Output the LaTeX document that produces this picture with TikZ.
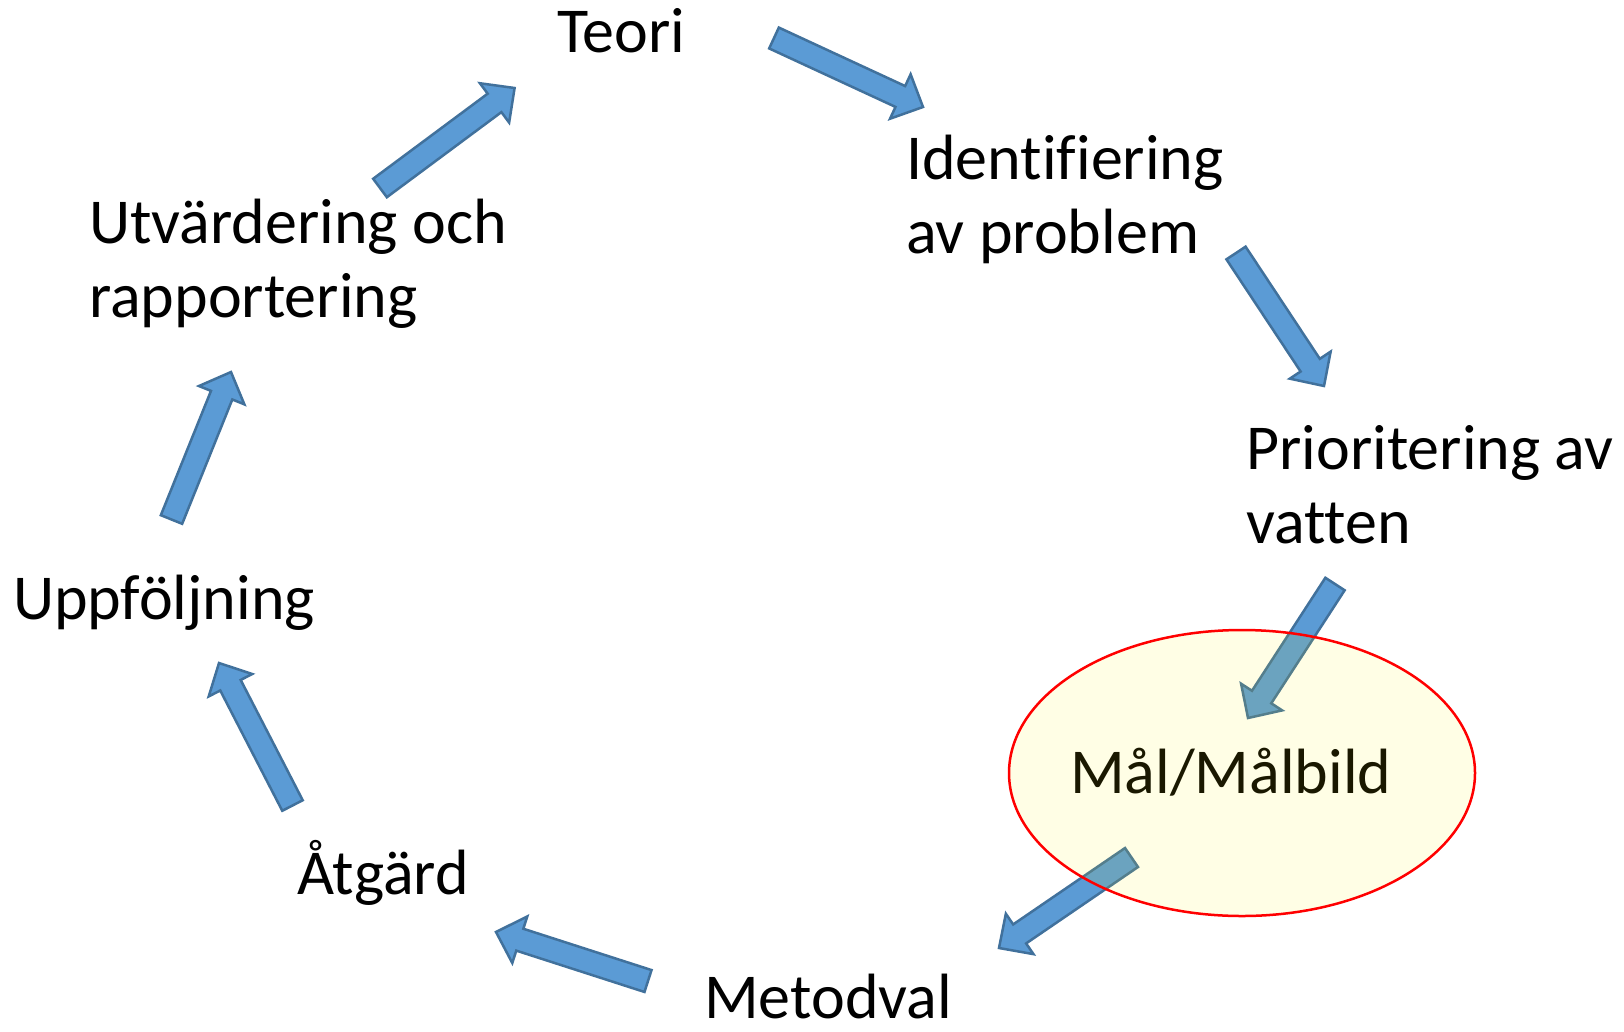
\documentclass[tikz,border=0pt]{standalone}
\usepackage{fontspec}
\setmainfont{Carlito}[Ligatures=NoCommon]
\usepackage{tikz}
\usetikzlibrary{calc,shapes.geometric}
\definecolor{arrowblue}{RGB}{91,155,213}
\definecolor{arrowline}{RGB}{65,113,156}

% block arrow from #1 to #2 (shaft 23, head 49 wide, head 25 long)
\newcommand{\blockarrow}[2]{%
	\coordinate (hb) at ($(#2)!25pt!(#1)$);
	\draw[barrow] ($(#1)!11.5pt!90:(#2)$) -- ($(hb)!11.5pt!90:(#2)$) -- ($(hb)!24.5pt!90:(#2)$) -- (#2)
		-- ($(hb)!24.5pt!-90:(#2)$) -- ($(hb)!11.5pt!-90:(#2)$) -- ($(#1)!11.5pt!-90:(#2)$) -- cycle;
}

\begin{document}
\begin{tikzpicture}[x=1pt,y=-1pt,% one unit = one pixel of the picture
			every node/.style={
				align=left,		% use this so that the "\\" for line break works
				inner sep=0pt,
				font=\fontsize{64}{74}\selectfont
			},
			barrow/.style={fill=arrowblue,draw=arrowline,line width=2.5pt,line join=miter}
		]
		\useasboundingbox (0,0) rectangle (1624,1031);
		% base of a two line node is the base of its last line
		\node[anchor=base west](S1) at (557,52){Teori};
		\node[anchor=base west](S2) at (906,253){Identifiering \\ av problem};
		\node[anchor=base west](S3) at (1246,543){Prioritering av \\ vatten};
		\node[anchor=base west](S4) at (1070,793){Mål/Målbild};
		\node[anchor=base west](S5) at (704,1018){Metodval};
		\node[anchor=base west](S6) at (297,894){Åtgärd};
		\node[anchor=base west](S7) at (13,619){Uppföljning};
		\node[anchor=base west](S8) at (89,317){Utvärdering och \\ rapportering};
		% arrow ends
		\coordinate (A1s) at (774,38);   \coordinate (A1e) at (923,107);
		\coordinate (A2s) at (1236,253); \coordinate (A2e) at (1324,386);
		\coordinate (A3s) at (1335,584); \coordinate (A3e) at (1248,718);
		\coordinate (A4s) at (1131.5,857.5); \coordinate (A4e) at (999,948);
		\coordinate (A5s) at (648,981);  \coordinate (A5e) at (496,932);
		\coordinate (A6s) at (292.5,805.5); \coordinate (A6e) at (219,663);
		\coordinate (A7s) at (171.5,519.5); \coordinate (A7e) at (231,372);
		\coordinate (A8s) at (380,188);  \coordinate (A8e) at (514.6,88);
		\blockarrow{A1s}{A1e}
		\blockarrow{A2s}{A2e}
		\blockarrow{A3s}{A3e}
		\blockarrow{A4s}{A4e}
		\blockarrow{A5s}{A5e}
		\blockarrow{A6s}{A6e}
		\blockarrow{A7s}{A7e}
		\blockarrow{A8s}{A8e}
		% highlight on top
		\node[ellipse,draw=red,line width=2.5pt,fill=yellow,fill opacity=0.1,
			minimum width=466pt,minimum height=286pt](E1) at (1242,773){};
	\end{tikzpicture}
\end{document}
